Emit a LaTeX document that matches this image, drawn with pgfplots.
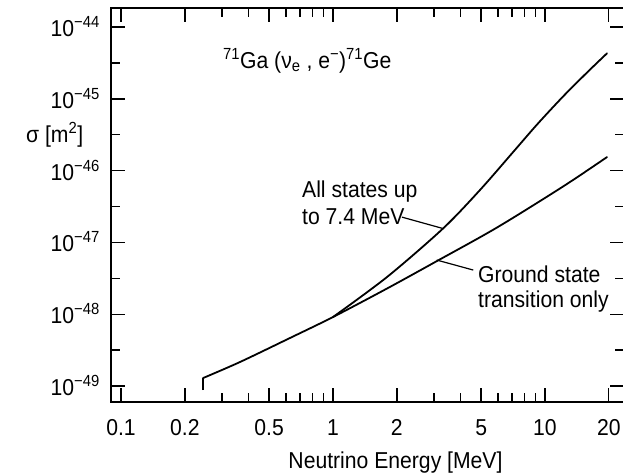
\documentclass[border=0pt]{standalone}
\usepackage{fontspec}
\setmainfont{Liberation Sans}[FakeStretch=0.92]
\usepackage{pgfplots}
\pgfplotsset{compat=1.18}
\begin{document}
\begin{tikzpicture}[font=\fontsize{23bp}{27bp}\selectfont]
\begin{axis}[
  at={(0,0)}, anchor=south west,
  scale only axis, width=513bp, height=394bp,
  xmode=log, ymode=log,
  xmin=0.08969, xmax=23.59, ymin=5.98e-50, ymax=1.841e-44,
  xtick={0.1,0.2,0.5,1,2,5,10,20},
  xticklabels={0.1,0.2,0.5,1,2,5,10,20},
  minor xtick={0.3,0.4,0.6,0.7,0.8,0.9,3,4,6,7,8,9},
  ytick={1e-49,1e-48,1e-47,1e-46,1e-45,1e-44},
  yticklabels={10\textsuperscript{−49},10\textsuperscript{−48},10\textsuperscript{−47},10\textsuperscript{−46},10\textsuperscript{−45},10\textsuperscript{−44}},
  minor ytick={3.162e-49,3.162e-48,3.162e-47,3.162e-46,3.162e-45},
  major tick length=14bp, minor tick length=9bp,
  every tick/.style={line width=1.4bp, black},
  axis line style={line width=1.8bp},
  xticklabel style={anchor=base, yshift=-33bp, inner sep=0pt},
  yticklabel style={anchor=base east, xshift=-11bp, yshift=-9.5bp, inner sep=0pt},
  clip=false,
]
\addplot[line width=1.8bp, black] coordinates {(0.2438,8.79e-50) (0.2438,1.291e-49)};
\addplot[line width=1.8bp, black, smooth, line cap=round] coordinates {
  (0.2438,1.291e-49) (0.364,2.158e-49) (0.627,4.667e-49) (1,9.14e-49)
  (1.798,2.280e-48) (3.094,5.508e-48) (5.937,1.613e-47) (12.16,6.005e-47) (19.61,1.545e-46)};
\addplot[line width=1.8bp, black, smooth, line cap=round] coordinates {
  (1,9.14e-49) (1.798,3.296e-48) (3.303,1.562e-47) (4.935,5.370e-47) (7.142,1.875e-46)
  (9.170,4.385e-46) (12.16,1.076e-45) (15.78,2.323e-45) (19.61,4.305e-45)};
\node[anchor=base west, inner sep=0pt] at (axis description cs:0.2183,0.8477)
  {\textsuperscript{71}Ga (ν\textsubscript{e} , e\textsuperscript{−})\textsuperscript{71}Ge};
\node[anchor=base west, inner sep=0pt] at (axis description cs:0.3723,0.5203) {All states up};
\node[anchor=base west, inner sep=0pt] at (axis description cs:0.3723,0.4518) {to 7.4 MeV};
\node[anchor=base west, inner sep=0pt] at (axis description cs:0.7154,0.3046) {Ground state};
\node[anchor=base west, inner sep=0pt] at (axis description cs:0.7154,0.2411) {transition only};
\draw[line width=1.2bp] (axis description cs:0.5673,0.4693) -- (axis description cs:0.6472,0.4404);
\draw[line width=1.2bp] (axis description cs:0.6349,0.3604) -- (axis description cs:0.7062,0.3350);
\node[anchor=base west, inner sep=0pt] at (axis description cs:-0.1657,0.6599) {σ [m\textsuperscript{2}]};
\node[anchor=base, inner sep=0pt] at (axis description cs:0.5546,-0.1675) {Neutrino Energy [MeV]};
\end{axis}
\pgfresetboundingbox
\path[use as bounding box] (-111bp,-72bp) rectangle (512bp,402bp);
\end{tikzpicture}
\end{document}
